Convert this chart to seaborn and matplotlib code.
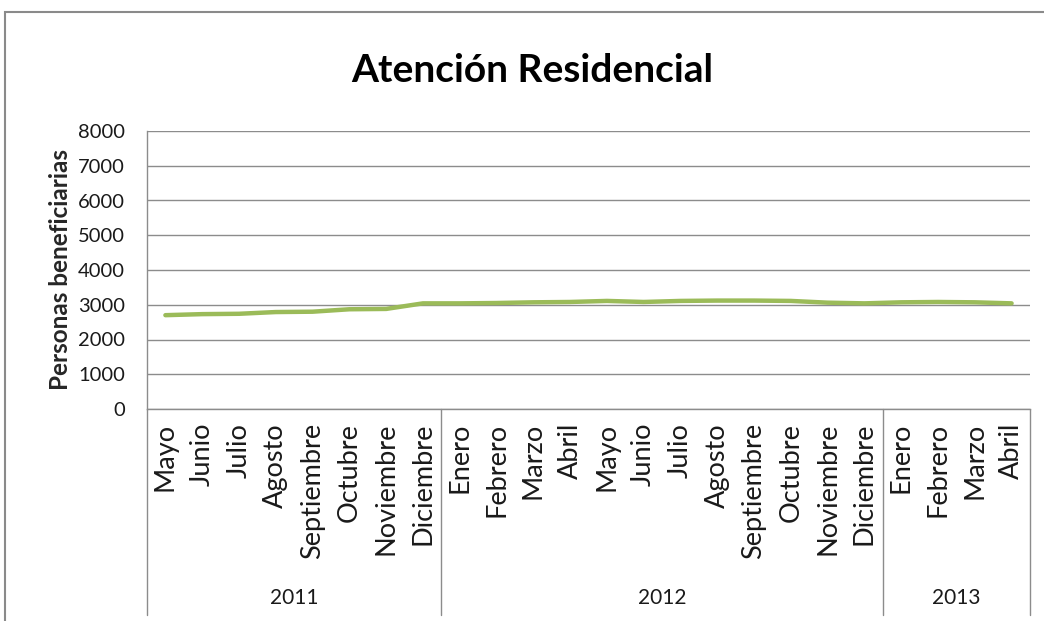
import matplotlib
matplotlib.use("Agg")
import matplotlib.pyplot as plt
import matplotlib.transforms as mtransforms
from matplotlib.patches import Rectangle
import seaborn as sns
import pandas as pd
import numpy as np

# ---- data ----
months = ["Mayo", "Junio", "Julio", "Agosto", "Septiembre", "Octubre", "Noviembre", "Diciembre",
          "Enero", "Febrero", "Marzo", "Abril", "Mayo", "Junio", "Julio", "Agosto",
          "Septiembre", "Octubre", "Noviembre", "Diciembre",
          "Enero", "Febrero", "Marzo", "Abril"]
years = ["2011"] * 8 + ["2012"] * 12 + ["2013"] * 4
values = [2700, 2730, 2740, 2790, 2800, 2870, 2880, 3040,
          3040, 3050, 3070, 3080, 3110, 3080, 3110, 3120,
          3120, 3110, 3060, 3040,
          3070, 3080, 3070, 3040]
yticks = [0, 1000, 2000, 3000, 4000, 5000, 6000, 7000, 8000]
title = "Atención Residencial"
ylabel = "Personas beneficiarias"

sns.set_style("white")
plt.rcParams['font.family'] = ['Lato', 'DejaVu Sans']

df = pd.DataFrame({"pos": np.arange(len(values)), "valor": values})

fig = plt.figure(figsize=(10.44, 6.21), dpi=100)
ax = fig.add_axes([147 / 1044, 1 - 409 / 621, (1030 - 147) / 1044, (409 - 131) / 621])

grid_c = "#8c8c8c"
sns.lineplot(data=df, x="pos", y="valor", ax=ax, color="#9BBB59", linewidth=3.2,
             solid_capstyle="round", zorder=3)

ax.set_xlim(-0.5, len(values) - 0.5)
ax.set_ylim(0, 8000)
ax.set_yticks(yticks)
ax.set_yticklabels([str(v) for v in yticks], fontsize=14.5, color="#1a1a1a")
ax.yaxis.grid(True, color=grid_c, linewidth=1.0)
ax.set_axisbelow(True)
ax.tick_params(axis="y", length=5, width=1, color=grid_c, direction="out", pad=11)
ax.set_ylabel(ylabel, fontsize=17.5, fontweight="bold", labelpad=4)
ax.set_xlabel("")

ax.set_xticks(np.arange(len(months)))
ax.set_xticklabels(months, rotation=90, va="top", ha="center", color="#1a1a1a",
                   fontsize=19.5)
ax.tick_params(axis="x", length=0, pad=10)

for s in ["top", "right"]:
    ax.spines[s].set_visible(False)
ax.spines["left"].set_color(grid_c)
ax.spines["bottom"].set_color(grid_c)
ax.spines["left"].set_linewidth(1.0)
ax.spines["bottom"].set_linewidth(1.0)

fig.text(532 / 1044, 1 - 70 / 621, title, fontsize=28, fontweight="bold",
         ha="center", va="center", color="#000000")

# multi-level year axis
trans = mtransforms.blended_transform_factory(ax.transData, ax.transAxes)
bottom_y = -0.74
year_label_y = -0.68
groups = []
start = 0
for i in range(1, len(years) + 1):
    if i == len(years) or years[i] != years[start]:
        groups.append((years[start], start, i - 1))
        start = i
bounds = [g[1] - 0.5 for g in groups] + [groups[-1][2] + 0.5]
for b in bounds:
    ax.plot([b, b], [0, bottom_y], transform=trans, color=grid_c, lw=1.0, clip_on=False)
for name, a, b in groups:
    ax.text((a + b) / 2, year_label_y, name, transform=trans, ha="center", va="center",
            fontsize=15, color="#1a1a1a")

# outer chart frame
fig.patches.append(Rectangle((5 / 1044, -0.2), 1.2, 1.2 - 12 / 621, transform=fig.transFigure,
                             fill=False, edgecolor="#8a8a8a", linewidth=1.5))

fig.savefig("out.png", dpi=100)
